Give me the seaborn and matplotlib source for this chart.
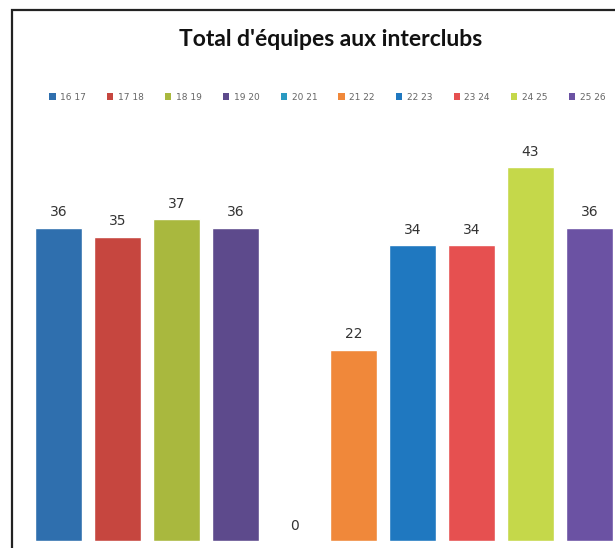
import matplotlib
matplotlib.use("Agg")
import matplotlib.pyplot as plt
import seaborn as sns
import pandas as pd
from matplotlib.patches import Rectangle, Patch

# Data
seasons = ["16 17", "17 18", "18 19", "19 20", "20 21",
           "21 22", "22 23", "23 24", "24 25", "25 26"]
teams = [36, 35, 37, 36, 0, 22, 34, 34, 43, 36]
colors = ["#2f6fae", "#c6463f", "#a9b83e", "#5d4a8c", "#2a9ac2",
          "#f0883a", "#1f78c0", "#e65050", "#c5d84a", "#6b52a3"]

df = pd.DataFrame({"season": seasons, "teams": teams})

sns.set_style("white")

fig = plt.figure(figsize=(6.15, 5.48), dpi=100)
ax = fig.add_axes([29 / 615, 7 / 548, 590 / 615, 522 / 548])

sns.barplot(data=df, x="season", y="teams", hue="season", palette=colors,
            dodge=False, legend=False, width=0.8, saturation=1, ax=ax)

for c in ax.containers:
    ax.bar_label(c, padding=6, fontsize=10, color="#333333", family="DejaVu Sans")

ax.set_xlim(-0.5, 9.5)
ax.set_ylim(0, 60)
ax.set_xlabel("")
ax.set_ylabel("")
ax.set_xticks([])
ax.set_yticks([])
for s in ax.spines.values():
    s.set_visible(False)
ax.patch.set_alpha(0)

# chart frame
fig.patches.append(Rectangle((12 / 615, -0.05), 1.0, 1 - 10 / 548 + 0.05,
                             transform=fig.transFigure, fill=False,
                             edgecolor="#222222", linewidth=1.6))

fig.text(0.537, 1 - 40 / 548, "Total d'équipes aux interclubs",
         ha="center", va="center", fontsize=16.5, fontweight="bold",
         family="Lato", color="#111111")

handles = [Patch(facecolor=c, edgecolor="none") for c in colors]
fig.legend(handles, seasons, loc="center", bbox_to_anchor=(0.532, 1 - 97 / 548),
           ncol=10, fontsize=6.5, frameon=False, handlelength=0.7,
           handleheight=0.7, handletextpad=0.5, columnspacing=2.35,
           labelcolor="#666666")

fig.savefig("out.png", dpi=100, facecolor="white")
